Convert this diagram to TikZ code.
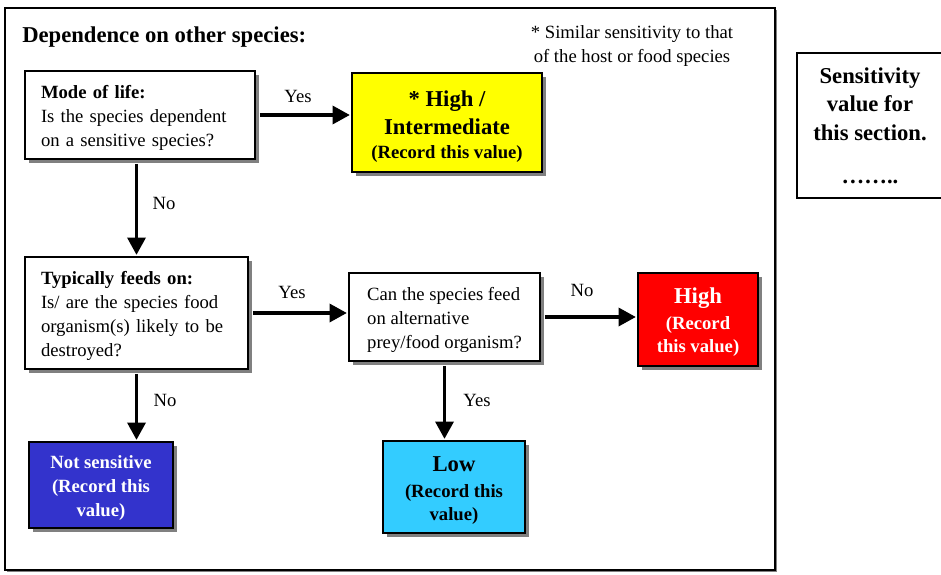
\documentclass[tikz,border=0pt]{standalone}
\usepackage{fontspec}
\setmainfont{Liberation Serif}
\usetikzlibrary{shadows,arrows.meta}

\definecolor{boxyellow}{HTML}{FFFF00}
\definecolor{boxred}{HTML}{FF0000}
\definecolor{boxblue}{HTML}{3333CC}
\definecolor{boxcyan}{HTML}{33CCFF}
\definecolor{shade}{HTML}{808080}

% invisible strut that makes room above the first line of a box
\newcommand\headroom[1]{\rule{0pt}{#1}}

\tikzset{
  flowbox/.style={draw=black, line width=1.2pt, rectangle, inner sep=0pt,
    drop shadow={shadow xshift=3pt, shadow yshift=-3pt, fill=shade, opacity=1}},
  question/.style={flowbox, fill=white, align=left, font=\fontsize{14}{18}\selectfont},
  outcome/.style={flowbox, align=center, font=\bfseries\fontsize{14}{17.25}\selectfont},
  bigoutcome/.style={flowbox, align=center, font=\bfseries\fontsize{17}{21}\selectfont},
  flow/.style={line width=2.6pt, -{Triangle[length=13pt,width=13.5pt]},
    shorten <=3pt, shorten >=1pt},
  answer/.style={font=\fontsize{14}{17}\selectfont, inner sep=0pt},
}

\begin{document}
\begin{tikzpicture}[x=0.75pt,y=-0.75pt]
  \useasboundingbox (0,0) rectangle (941,574);

  % section frame
  \node[draw=black, line width=1.6pt, minimum width=577.5pt, minimum height=421.5pt,
        drop shadow={shadow xshift=1.5pt, shadow yshift=-1.5pt, fill=shade, opacity=1},
        fill=white] (frame) at (390,289) {};

  \node[anchor=base west, font=\bfseries\fontsize{17}{21}\selectfont, inner sep=0pt]
    (title) at (22,43) {Dependence on other species:};

  \node[align=center, font=\fontsize{14}{18}\selectfont, inner sep=0pt] (note) at (632,46)
    {* Similar sensitivity to that\\of the host or food species};

  % questions
  \node[question, text width=148.5pt, minimum width=172.5pt, minimum height=66pt]
    (mode) at (140,115)
    {\headroom{13.8pt}\textbf{Mode of life:}\\Is the species dependent\\on a sensitive species?};

  \node[question, text width=143.25pt, minimum width=167.25pt, minimum height=84pt]
    (feeds) at (136.5,313)
    {\headroom{14pt}\textbf{Typically feeds on:}\\Is/ are the species food\\organism(s) likely to be\\destroyed?};

  \node[question, minimum width=143.25pt, minimum height=66pt]
    (alt) at (444.5,317)
    {\headroom{15pt}Can the species feed\\on alternative\\prey/food organism?};

  % outcomes
  \node[bigoutcome, fill=boxyellow, minimum width=142.5pt, minimum height=74.25pt]
    (inter) at (447,122.5)
    {\headroom{17.5pt}* High /\\Intermediate\\[-3pt]{\fontsize{14}{18}\selectfont (Record this value)}};

  \node[outcome, fill=boxred, text=white, minimum width=90pt, minimum height=69.75pt]
    (high) at (698,319.5)
    {\headroom{16.2pt}{\fontsize{17}{17}\selectfont High}\\[2.25pt](Record\\this value)};

  \node[outcome, fill=boxblue, text=white, minimum width=108pt, minimum height=64.5pt,
        font=\bfseries\fontsize{14}{18}\selectfont]
    (notsens) at (101,485)
    {\headroom{14pt}Not sensitive\\(Record this\\value)};

  \node[outcome, fill=boxcyan, minimum width=106.5pt, minimum height=69pt]
    (low) at (454,487)
    {\headroom{17pt}{\fontsize{17}{17}\selectfont Low}\\[2.25pt](Record this\\value)};

  % value box
  \node[draw=black, line width=0.8pt, fill=white, align=center, inner sep=0pt,
        font=\bfseries\fontsize{17}{21.5}\selectfont,
        minimum width=109.5pt, minimum height=108.75pt]
    (value) at (870,125.5)
    {Sensitivity\\value for\\this section.\\[10.5pt]……..};

  % connectors
  \draw[flow] (mode.east) -- (mode.east -| inter.west);
  \draw[flow] (feeds.north |- mode.south) -- (feeds.north);
  \draw[flow] (feeds.east) -- (feeds.east -| alt.west);
  \draw[flow] (alt.east) -- (alt.east -| high.west);
  \draw[flow] (feeds.south) -- (feeds.south |- notsens.north);
  \draw[flow] (alt.south) -- (alt.south |- low.north);

  % answers
  \node[answer] (yes1) at (298,96) {Yes};
  \node[answer] (no1) at (164,203) {No};
  \node[answer] (yes2) at (292,292) {Yes};
  \node[answer] (no2) at (582,290) {No};
  \node[answer] (no3) at (165,400) {No};
  \node[answer] (yes3) at (477,400) {Yes};
\end{tikzpicture}
\end{document}
